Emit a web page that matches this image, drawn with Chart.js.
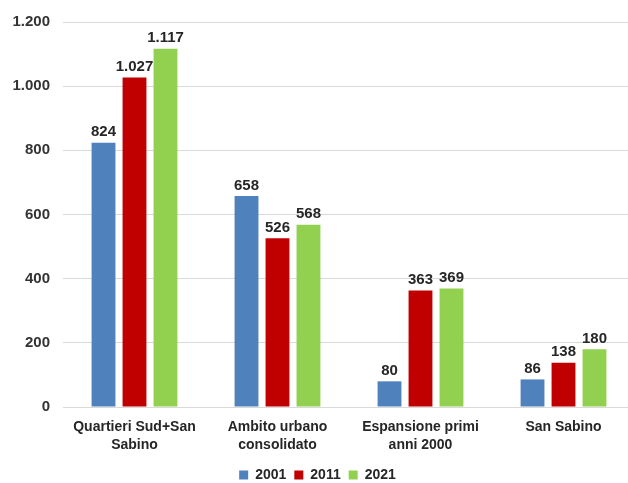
<!DOCTYPE html>
<html>
<head>
<meta charset="utf-8">
<script src="https://cdn.jsdelivr.net/npm/chart.js@4/dist/chart.umd.min.js"></script>
<style>
	html, body { margin: 0; padding: 0; background: #fff; overflow: hidden; }
	#wrap { width: 640px; height: 483px; }
</style>
</head>
<body>
<div id="wrap"><canvas id="myChart" width="640" height="483"></canvas></div>
<script>
// dati
const categorie = [
	["Quartieri Sud+San", "Sabino"],
	["Ambito urbano", "consolidato"],
	["Espansione primi", "anni 2000"],
	"San Sabino"
];
const anni = ["2001", "2011", "2021"];
const dati_2001 = [824, 658, 80, 86];
const dati_2011 = [1027, 526, 363, 138];
const dati_2021 = [1117, 568, 369, 180];
const tick_y = [0, 200, 400, 600, 800, 1000, 1200];

const colori = ["#4f81bd", "#c00000", "#92d050"];

function fmt(v) {
	return String(v).replace(/\B(?=(\d{3})+(?!\d))/g, ".");
}

// etichette sopra le barre
const etichette = {
	id: "etichette",
	afterDatasetsDraw(chart) {
		const c = chart.ctx;
		c.save();
		c.font = "bold 15px 'Liberation Sans', Arial, sans-serif";
		c.fillStyle = "#262626";
		c.textAlign = "center";
		c.textBaseline = "bottom";
		chart.data.datasets.forEach((ds, i) => {
			chart.getDatasetMeta(i).data.forEach((bar, j) => {
				c.fillText(fmt(ds.data[j]), bar.x, bar.y - 3);
			});
		});
		c.restore();
	}
};

const ctx = document.getElementById("myChart").getContext("2d");
let myChart = new Chart(ctx, {
	type: "bar",
	data: {
		labels: categorie,
		datasets: [
			{ label: anni[0], data: dati_2001, backgroundColor: colori[0] },
			{ label: anni[1], data: dati_2011, backgroundColor: colori[1] },
			{ label: anni[2], data: dati_2021, backgroundColor: colori[2] }
		]
	},
	options: {
		responsive: false,
		animation: false,
		categoryPercentage: 0.65,
		barPercentage: 0.77,
		layout: { padding: { top: 22, right: 5, left: 0, bottom: -9 } },
		plugins: {
			tooltip: { enabled: false },
			legend: {
				position: "bottom",
				labels: {
					boxWidth: 9,
					boxHeight: 9,
					padding: 8,
					color: "#262626",
					font: { family: "'Liberation Sans', Arial, sans-serif", size: 14, weight: "bold" }
				}
			}
		},
		scales: {
			x: {
				grid: { display: false },
				border: { color: "#d9d9d9" },
				ticks: {
					color: "#262626",
					padding: 3,
					maxRotation: 0,
					autoSkip: false,
					font: { family: "'Liberation Sans', Arial, sans-serif", size: 14, weight: "bold", lineHeight: 1.3 }
				},
				afterFit(scale) { scale.height = 53; }
			},
			y: {
				min: 0,
				max: 1200,
				afterBuildTicks(scale) { scale.ticks = tick_y.map(v => ({ value: v })); },
				grid: { color: "#d9d9d9", drawTicks: false },
				border: { display: false },
				ticks: {
					color: "#333333",
					padding: 13,
					font: { family: "'Liberation Sans', Arial, sans-serif", size: 15, weight: "bold" },
					callback: v => fmt(v)
				},
				afterFit(scale) { scale.width = 63; }
			}
		}
	},
	plugins: [etichette]
});
</script>
</body>
</html>
